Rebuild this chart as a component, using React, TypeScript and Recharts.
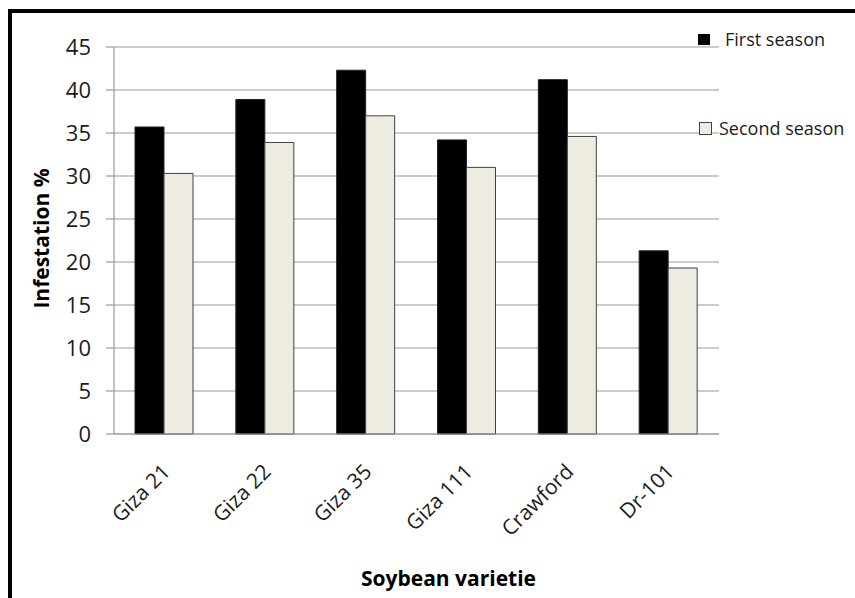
import { Bar, BarChart, CartesianGrid, Legend, XAxis, YAxis } from "recharts";

const varieties = ["Giza 21", "Giza 22", "Giza 35", "Giza 111", "Crawford", "Dr-101"];
const firstSeason = [35.7, 38.9, 42.3, 34.2, 41.2, 21.3];
const secondSeason = [30.3, 33.9, 37.0, 31.0, 34.6, 19.3];
const yTicks = [0, 5, 10, 15, 20, 25, 30, 35, 40, 45];

const data = varieties.map((name, i) => ({
  name,
  first: firstSeason[i],
  second: secondSeason[i],
}));

const font = "'Open Sans', sans-serif";
const gridColor = "#9a9a9a";
const textColor = "#1c1c1c";
const beige = "#eeebe0";

function RotatedTick({ x, y, payload }: any) {
  return (
    <g transform={`translate(${x + 7},${y + 39})`}>
      <text
        transform="rotate(-45)"
        textAnchor="end"
        fontFamily={font}
        fontSize={21}
        fill={textColor}
      >
        {payload.value}
      </text>
    </g>
  );
}

function SeasonLegend({ payload }: any) {
  const items = payload || [];
  // excel left the two entries spread out along the right edge
  const spots = [
    { top: 27, left: 698, gap: 15 },
    { top: 116, left: 699, gap: 7 },
  ];
  return (
    <div style={{ position: "relative", width: 855, height: 0 }}>
      {items.map((item: any, i: number) => {
        const s = spots[i] || spots[0];
        return (
          <div
            key={item.value}
            style={{
              position: "absolute",
              top: s.top,
              left: s.left,
              display: "flex",
              alignItems: "center",
              fontFamily: font,
              fontSize: 18,
              color: textColor,
              whiteSpace: "nowrap",
              lineHeight: "24px",
            }}
          >
            <span
              style={{
                display: "inline-block",
                width: i === 0 ? 12 : 13,
                height: i === 0 ? 11 : 13,
                boxSizing: "border-box",
                background: item.color,
                border: i === 0 ? "none" : "1px solid #404040",
                marginRight: s.gap,
              }}
            />
            {item.value}
          </div>
        );
      })}
    </div>
  );
}

export default function App() {
  return (
    <div style={{ position: "absolute", left: 0, top: 0, width: 855, height: 598, background: "#fff" }}>
      <div
        style={{
          position: "absolute",
          left: 8,
          top: 9,
          right: 0,
          bottom: 0,
          borderLeft: "4px solid #000",
          borderTop: "4px solid #000",
        }}
      />
      <div style={{ position: "absolute", left: 0, top: 0 }}>
        <BarChart
          width={855}
          height={598}
          data={data}
          margin={{ top: 47, right: 136, left: 54, bottom: 0 }}
          barGap={0}
          barSize={29}
        >
          <CartesianGrid vertical={false} stroke={gridColor} strokeWidth={1.2} />
          <XAxis
            dataKey="name"
            height={164}
            axisLine={{ stroke: gridColor, strokeWidth: 1.2 }}
            tickLine={false}
            tickSize={0}
            tickMargin={0}
            interval={0}
            tick={<RotatedTick />}
            label={{
              content: ({ viewBox }: any) => (
                <text
                  x={viewBox.x + viewBox.width / 2 + 32}
                  y={viewBox.y + 152}
                  textAnchor="middle"
                  fontFamily={font}
                  fontWeight="bold"
                  fontSize={21}
                  fill="#000"
                >
                  Soybean varietie
                </text>
              ),
            }}
          />
          <YAxis
            width={60}
            domain={[0, 45]}
            ticks={yTicks}
            interval={0}
            axisLine={{ stroke: gridColor, strokeWidth: 1.2 }}
            tickLine={{ stroke: gridColor, strokeWidth: 1.2 }}
            tickSize={8}
            tickMargin={15}
            tick={{ fontFamily: font, fontSize: 22, fill: textColor }}
            label={{
              content: ({ viewBox }: any) => {
                const cx = viewBox.x - 13;
                const cy = viewBox.y + viewBox.height / 2 - 2;
                return (
                  <text
                    x={cx}
                    y={cy}
                    transform={`rotate(-90, ${cx}, ${cy})`}
                    textAnchor="middle"
                    dominantBaseline="central"
                    fontFamily={font}
                    fontWeight="bold"
                    fontSize={21}
                    fill="#000"
                  >
                    Infestation %
                  </text>
                );
              },
            }}
          />
          <Legend
            layout="vertical"
            align="center"
            verticalAlign="middle"
            wrapperStyle={{ top: 0, left: 0, width: 855 }}
            content={<SeasonLegend />}
          />
          <Bar dataKey="first" name="First season" fill="#000" stroke="#222" strokeWidth={1} isAnimationActive={false} />
          <Bar dataKey="second" name="Second season" fill={beige} stroke="#404040" strokeWidth={1} isAnimationActive={false} />
        </BarChart>
      </div>
    </div>
  );
}
